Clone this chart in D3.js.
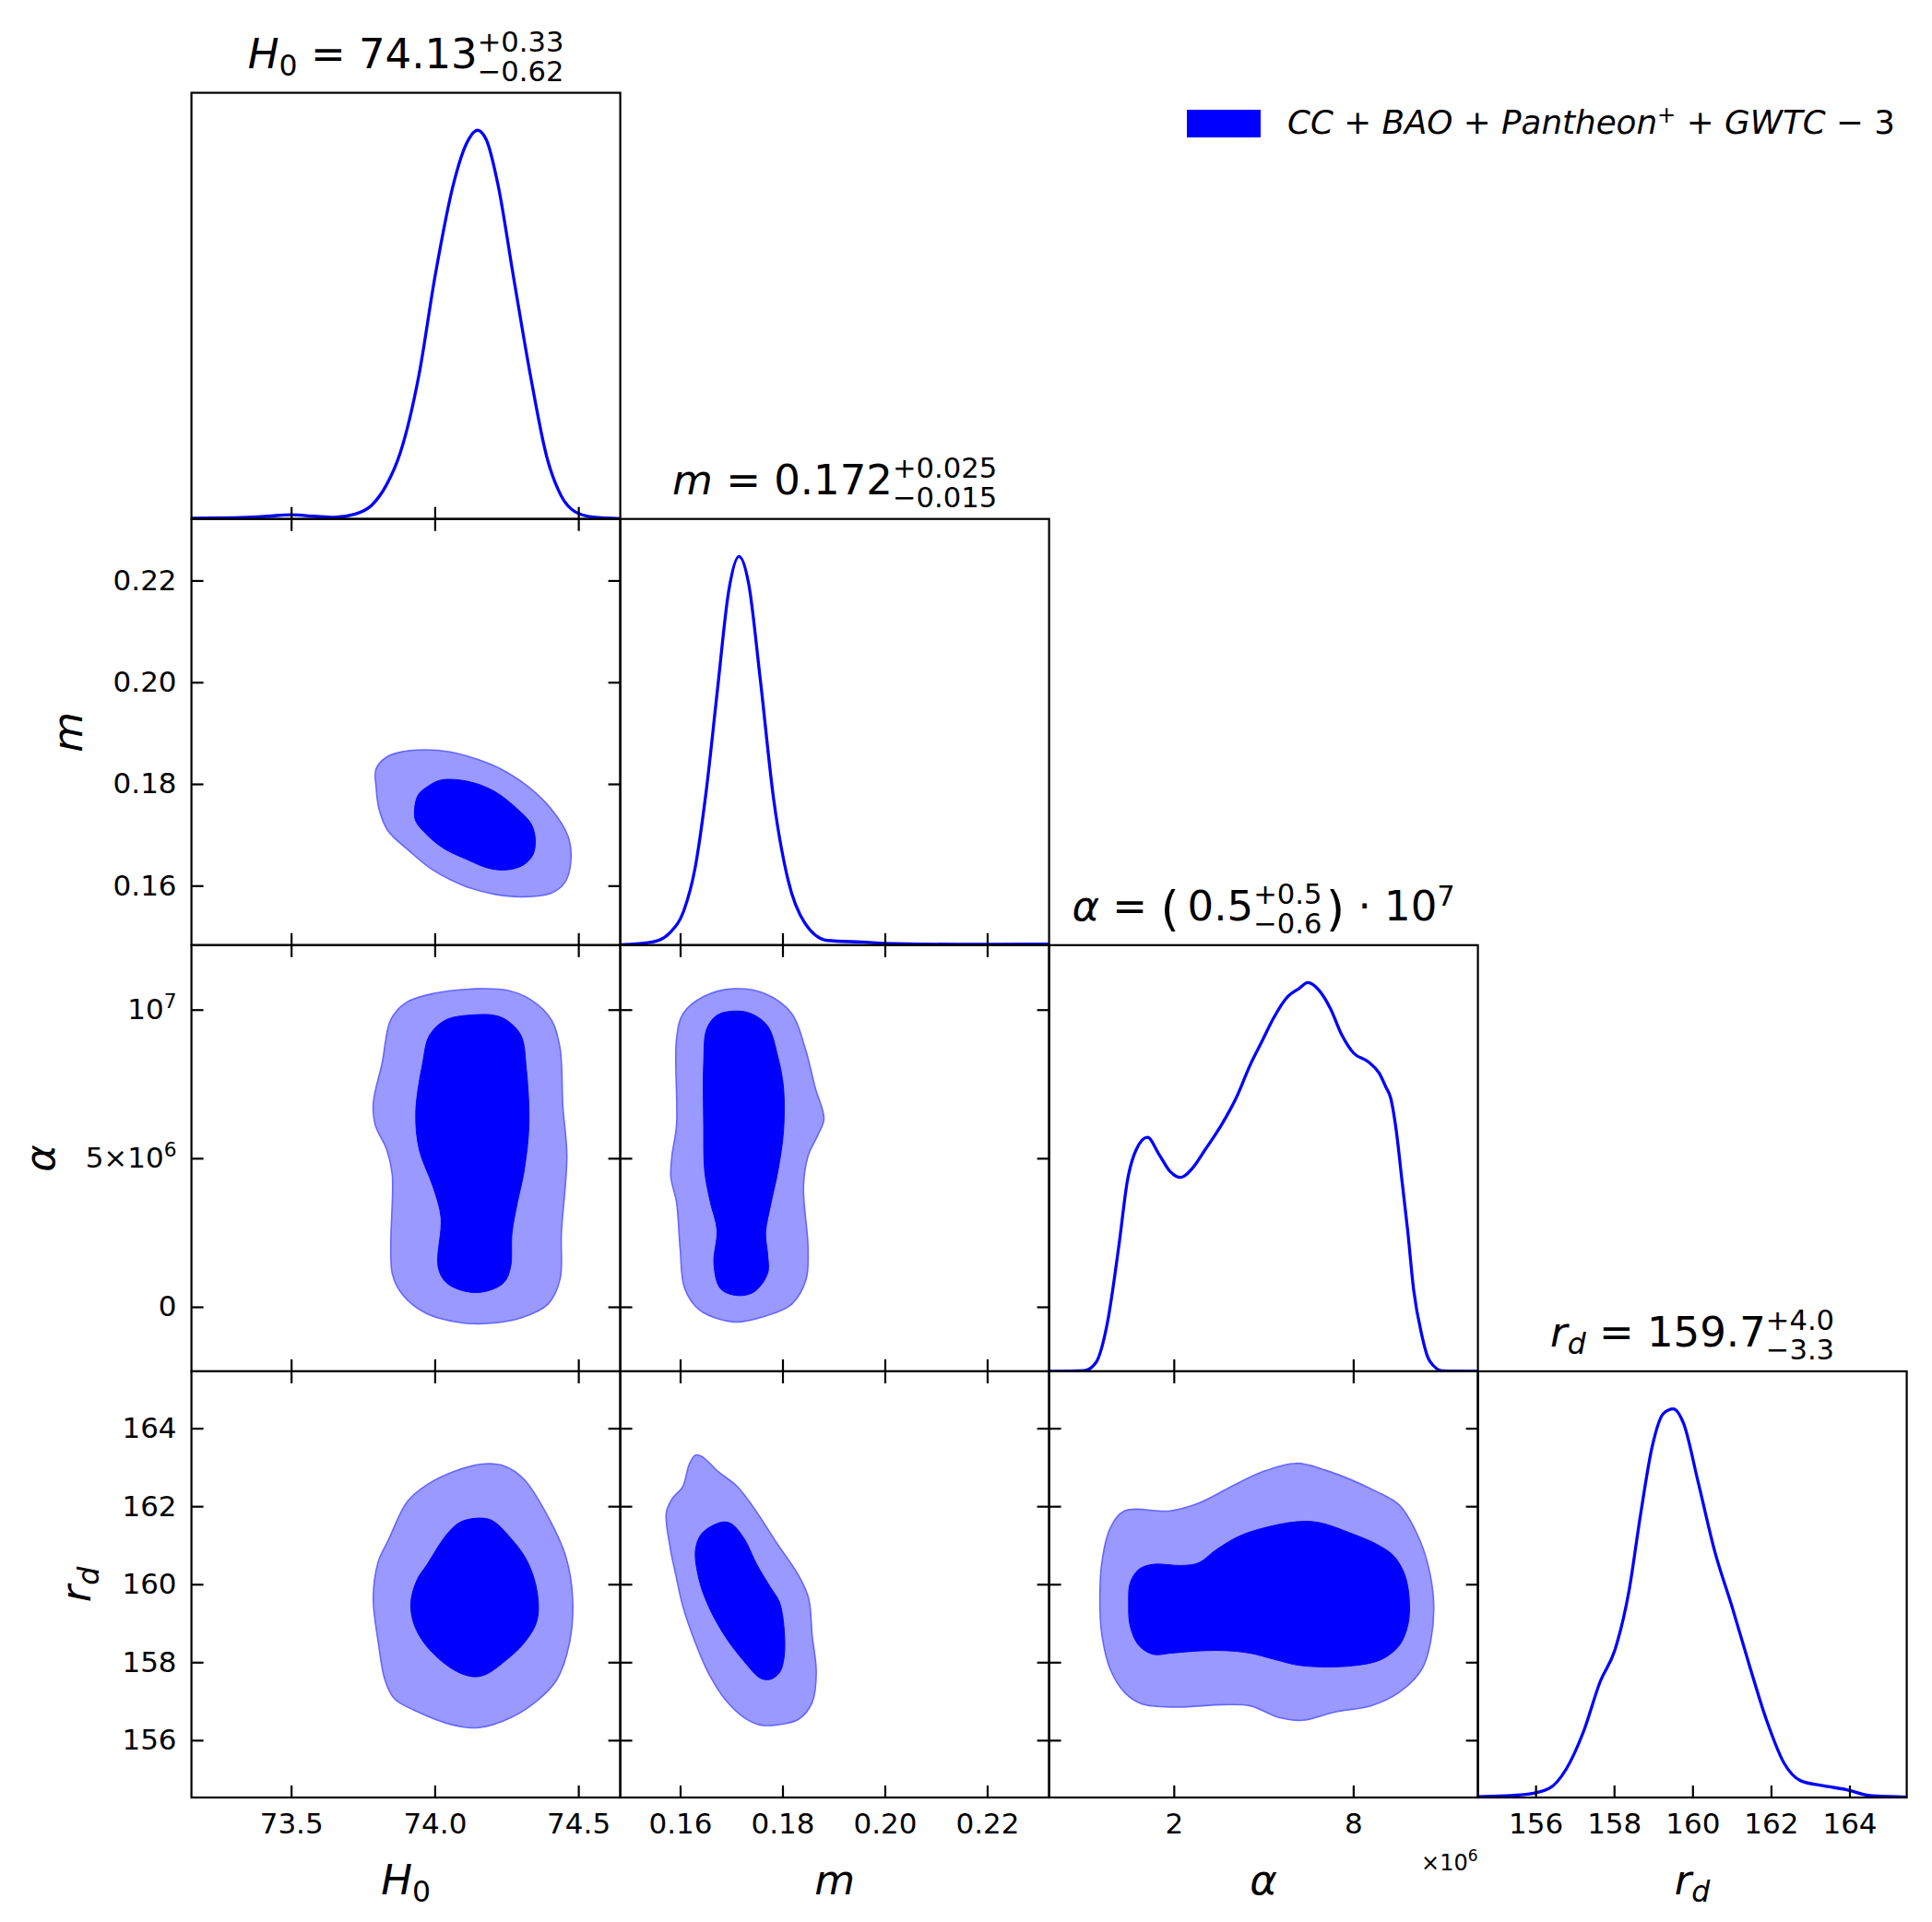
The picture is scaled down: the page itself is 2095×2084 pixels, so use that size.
<!DOCTYPE html>
<html>
<head>
<meta charset="utf-8">
<script src="https://cdn.jsdelivr.net/npm/d3@7"></script>
<style>
	body { margin: 0; background: white; }
	text { font-family: "DejaVu Sans", sans-serif; fill: black; }
</style>
</head>
<body>
<script>
// corner plot: H0, m, alpha (alpha kept in units of 1e6), r_d

var rangeH0 = [73.153, 74.646];
var rangeM = [0.1483, 0.2321];
var rangeAlpha = [-2.17, 12.17];
var rangeRd = [154.53, 165.46];

var ticksH0 = [73.5, 74.0, 74.5];
var tickLabelsH0 = ["73.5", "74.0", "74.5"];
var ticksM = [0.16, 0.18, 0.20, 0.22];
var tickLabelsM = ["0.16", "0.18", "0.20", "0.22"];
var ticksAlphaX = [2, 8];
var tickLabelsAlphaX = ["2", "8"];
var ticksAlphaY = [0, 5, 10];
var tickLabelsAlphaY = [["0", ""], ["5\u00d710", "6"], ["10", "7"]];
var ticksRd = [156, 158, 160, 162, 164];
var tickLabelsRd = ["156", "158", "160", "162", "164"];

// 1D marginals, normalised to peak 1
var margH0 = [[73.153, 0.002], [73.30, 0.003], [73.42, 0.007], [73.50, 0.011], [73.58, 0.007],
	[73.65, 0.004], [73.72, 0.012], [73.78, 0.035], [73.83, 0.085], [73.88, 0.17], [73.945, 0.37],
	[74.001, 0.624], [74.065, 0.861], [74.11, 0.965], [74.149, 1.0], [74.18, 0.975], [74.220, 0.861],
	[74.274, 0.624], [74.333, 0.37], [74.39, 0.16], [74.44, 0.06], [74.49, 0.018], [74.55, 0.005],
	[74.646, 0.001]];
var margM = [[0.1483, 0.001], [0.1546, 0.008], [0.1580, 0.032], [0.1607, 0.088], [0.1629, 0.197],
	[0.1651, 0.397], [0.1673, 0.658], [0.1695, 0.912], [0.1715, 1.0], [0.1734, 0.929], [0.1756, 0.691],
	[0.1783, 0.373], [0.1811, 0.167], [0.1844, 0.056], [0.1888, 0.012], [0.1954, 0.008], [0.2020, 0.004],
	[0.2174, 0.002], [0.2321, 0.003]];
var margAlpha = [[-2.17, 0], [-0.99, 0.002], [-0.60, 0.023], [-0.22, 0.125], [0.16, 0.321],
	[0.45, 0.491], [0.73, 0.568], [1.12, 0.602], [1.50, 0.559], [1.89, 0.513], [2.23, 0.499],
	[2.65, 0.525], [3.03, 0.568], [3.61, 0.636], [4.09, 0.704], [4.56, 0.789], [4.95, 0.849],
	[5.33, 0.908], [5.81, 0.964], [6.19, 0.985], [6.48, 1.0], [6.86, 0.980], [7.24, 0.933],
	[7.62, 0.865], [8.01, 0.819], [8.49, 0.797], [8.87, 0.767], [9.10, 0.73], [9.25, 0.704],
	[9.44, 0.619], [9.63, 0.491], [9.82, 0.363], [10.02, 0.21], [10.30, 0.091], [10.50, 0.035],
	[10.69, 0.014], [11.0, 0.001], [12.17, 0]];
var margRd = [[154.53, 0.002], [155.75, 0.008], [156.34, 0.023], [156.78, 0.073], [157.22, 0.169],
	[157.65, 0.299], [158.02, 0.379], [158.38, 0.531], [158.68, 0.731], [158.97, 0.902],
	[159.26, 0.988], [159.51, 1.0], [159.77, 0.963], [160.14, 0.813], [160.57, 0.632],
	[161.01, 0.490], [161.45, 0.340], [161.89, 0.198], [162.33, 0.089], [162.76, 0.043],
	[163.35, 0.030], [163.93, 0.020], [164.52, 0.005], [165.46, 0.001]];

// 2D contours (68% inner, 95% outer), [x, y] in data units
var mH0Outer = [[73.963, 0.1867], [74.052, 0.1863], [74.150, 0.1848], [74.228, 0.1830], [74.327, 0.1794],
	[74.405, 0.1751], [74.464, 0.1697], [74.474, 0.1649], [74.454, 0.1607], [74.405, 0.1585],
	[74.307, 0.1578], [74.209, 0.1583], [74.110, 0.1598], [73.993, 0.1631], [73.914, 0.1667],
	[73.836, 0.1709], [73.806, 0.1751], [73.796, 0.1794], [73.796, 0.1830], [73.836, 0.1854],
	[73.894, 0.1864]];
var mH0Inner = [[74.052, 0.1809], [74.130, 0.1803], [74.209, 0.1785], [74.287, 0.1751], [74.336, 0.1721],
	[74.350, 0.1691], [74.342, 0.1661], [74.307, 0.1640], [74.248, 0.1631], [74.189, 0.1634],
	[74.110, 0.1652], [74.032, 0.1673], [73.973, 0.1700], [73.934, 0.1727], [73.930, 0.1751],
	[73.943, 0.1779], [73.973, 0.1794], [74.012, 0.1806]];
var alphaH0Outer = [[74.147, 10.70], [74.252, 10.65], [74.335, 10.33], [74.406, 9.66], [74.436, 8.72],
	[74.446, 6.75], [74.460, 5.08], [74.441, 2.48], [74.436, 0.92], [74.394, 0.09], [74.300, -0.37],
	[74.182, -0.56], [74.088, -0.53], [73.970, -0.22], [73.888, 0.41], [73.852, 1.13], [73.852, 4.46],
	[73.833, 5.29], [73.793, 6.12], [73.786, 6.85], [73.817, 8.20], [73.847, 9.66], [73.899, 10.23],
	[73.994, 10.54]];
var alphaH0Inner = [[74.147, 9.83], [74.206, 9.81], [74.248, 9.66], [74.300, 9.14], [74.319, 7.99],
	[74.328, 6.12], [74.311, 4.56], [74.288, 3.52], [74.269, 2.48], [74.264, 1.34], [74.241, 0.82],
	[74.182, 0.53], [74.111, 0.51], [74.040, 0.82], [74.012, 1.34], [74.022, 3.00], [73.994, 4.04],
	[73.946, 5.29], [73.934, 6.54], [73.958, 8.20], [73.982, 9.14], [74.040, 9.66]];
var alphaMOuter = [[0.1705, 10.70], [0.1765, 10.54], [0.1818, 9.87], [0.1844, 8.72], [0.1864, 7.37],
	[0.1881, 6.33], [0.1870, 5.81], [0.1850, 5.08], [0.1841, 4.04], [0.1850, 1.97], [0.1846, 0.92],
	[0.1818, 0.09], [0.1765, -0.32], [0.1705, -0.51], [0.1639, -0.12], [0.1609, 0.61], [0.1600, 1.97],
	[0.1593, 3.52], [0.1582, 4.35], [0.1584, 5.08], [0.1593, 6.12], [0.1593, 9.03], [0.1606, 9.87],
	[0.1646, 10.44]];
var alphaMInner = [[0.1705, 9.95], [0.1738, 9.87], [0.1771, 9.45], [0.1791, 8.41], [0.1802, 7.37],
	[0.1802, 5.91], [0.1791, 4.56], [0.1778, 3.52], [0.1767, 2.48], [0.1771, 1.76], [0.1771, 1.13],
	[0.1745, 0.51], [0.1712, 0.38], [0.1679, 0.61], [0.1666, 1.44], [0.1672, 2.59], [0.1659, 3.52],
	[0.1648, 4.56], [0.1646, 6.12], [0.1646, 8.20], [0.1652, 9.35], [0.1672, 9.81]];
var rdH0Outer = [[74.164, 163.08], [74.243, 163.03], [74.311, 162.69], [74.401, 161.64], [74.457, 160.69],
	[74.480, 159.64], [74.469, 158.49], [74.424, 157.54], [74.356, 157.01], [74.266, 156.58],
	[74.153, 156.32], [74.063, 156.39], [73.928, 156.77], [73.860, 157.06], [73.827, 157.54],
	[73.804, 158.49], [73.786, 159.64], [73.804, 160.59], [73.838, 161.12], [73.905, 162.12],
	[73.973, 162.55], [74.063, 162.88]];
var rdH0Inner = [[74.142, 161.69], [74.198, 161.64], [74.266, 161.17], [74.322, 160.59], [74.356, 159.83],
	[74.356, 159.07], [74.311, 158.49], [74.243, 158.02], [74.176, 157.68], [74.131, 157.63],
	[74.063, 157.82], [73.973, 158.40], [73.928, 158.97], [73.917, 159.54], [73.939, 160.12],
	[73.973, 160.50], [74.040, 161.26], [74.086, 161.58]];
var rdMOuter = [[0.1630, 163.31], [0.1643, 163.27], [0.1675, 162.88], [0.1712, 162.50], [0.1750, 161.84],
	[0.1788, 161.07], [0.1832, 160.21], [0.1851, 159.64], [0.1858, 158.68], [0.1866, 157.73],
	[0.1858, 156.97], [0.1832, 156.54], [0.1788, 156.39], [0.1757, 156.39], [0.1725, 156.58],
	[0.1687, 157.06], [0.1655, 157.73], [0.1630, 158.49], [0.1605, 159.45], [0.1592, 160.21],
	[0.1580, 160.98], [0.1573, 161.84], [0.1586, 162.22], [0.1605, 162.50], [0.1618, 163.08]];
var rdMInner = [[0.1681, 161.59], [0.1700, 161.55], [0.1725, 161.17], [0.1750, 160.50], [0.1776, 159.93],
	[0.1794, 159.54], [0.1803, 158.88], [0.1803, 158.11], [0.1794, 157.73], [0.1776, 157.56],
	[0.1757, 157.59], [0.1725, 158.02], [0.1687, 158.68], [0.1655, 159.45], [0.1637, 160.12],
	[0.1630, 160.88], [0.1643, 161.31]];
var rdAlphaOuter = [[-0.47, 159.53], [-0.41, 160.53], [-0.13, 161.43], [0.35, 161.88], [1.88, 161.88],
	[2.84, 162.08], [3.99, 162.53], [4.95, 162.88], [6.09, 163.10], [7.05, 162.93], [8.77, 162.38],
	[9.54, 162.03], [10.11, 161.33], [10.49, 160.53], [10.69, 159.53], [10.59, 158.53], [10.30, 157.83],
	[9.54, 157.23], [8.58, 156.88], [7.43, 156.73], [6.29, 156.51], [5.52, 156.58], [4.56, 156.88],
	[3.61, 156.91], [2.08, 156.85], [0.93, 156.93], [0.35, 157.23], [-0.13, 157.83], [-0.41, 158.73]];
var rdAlphaInner = [[0.54, 160.03], [0.83, 160.38], [1.31, 160.51], [2.27, 160.48], [2.84, 160.55],
	[3.41, 160.88], [4.18, 161.23], [4.95, 161.43], [6.09, 161.60], [6.86, 161.58], [8.01, 161.28],
	[8.77, 161.03], [9.35, 160.73], [9.73, 160.23], [9.88, 159.53], [9.82, 158.93], [9.54, 158.43],
	[8.97, 158.08], [8.01, 157.91], [6.29, 157.91], [5.33, 158.08], [4.56, 158.23], [3.61, 158.30],
	[2.65, 158.28], [1.88, 158.23], [1.31, 158.20], [0.83, 158.43], [0.54, 158.93], [0.49, 159.53]];

var vars = [
	{ range: rangeH0, xTicks: ticksH0, xLabels: tickLabelsH0, yTicks: ticksH0, marg: margH0 },
	{ range: rangeM, xTicks: ticksM, xLabels: tickLabelsM, yTicks: ticksM, yLabels: tickLabelsM, marg: margM },
	{ range: rangeAlpha, xTicks: ticksAlphaX, xLabels: tickLabelsAlphaX, yTicks: ticksAlphaY, marg: margAlpha },
	{ range: rangeRd, xTicks: ticksRd, xLabels: tickLabelsRd, yTicks: ticksRd, yLabels: tickLabelsRd, marg: margRd }
];

var contours = [
	{ col: 0, row: 1, outer: mH0Outer, inner: mH0Inner },
	{ col: 0, row: 2, outer: alphaH0Outer, inner: alphaH0Inner },
	{ col: 1, row: 2, outer: alphaMOuter, inner: alphaMInner },
	{ col: 0, row: 3, outer: rdH0Outer, inner: rdH0Inner },
	{ col: 1, row: 3, outer: rdMOuter, inner: rdMInner },
	{ col: 2, row: 3, outer: rdAlphaOuter, inner: rdAlphaInner }
];

var width = 2095, height = 2084;
var gridLeft = 207.6, gridTop = 100.6, panelW = 465, panelH = 462.1;
var tickLen = 13, spineW = 2.2;
var tickFont = 31, labelFont = 45;
var blue = "#0000ff", lightBlue = "#9999ff", edgeBlue = "#6666ff";
var peakFrac = 0.912;

var svg = d3.select("body")
	.append("svg")
		.attr("width", width)
		.attr("height", height);

svg.append("rect")
		.attr("width", width)
		.attr("height", height)
		.attr("fill", "white");

function colX(i) { return gridLeft + i * panelW; }
function rowY(j) { return gridTop + j * panelH; }

var xScales = vars.map(function(v, i) {
	return d3.scaleLinear().domain(v.range).range([colX(i), colX(i) + panelW]);
});
var yScales = vars.map(function(v, j) {
	return d3.scaleLinear().domain(v.range).range([rowY(j) + panelH, rowY(j)]);
});

var defs = svg.append("defs");
var plots = svg.append("g");
var axes = svg.append("g");

function clipFor(i, j) {
	var id = "clip" + i + j;
	defs.append("clipPath")
			.attr("id", id)
		.append("rect")
			.attr("x", colX(i))
			.attr("y", rowY(j))
			.attr("width", panelW)
			.attr("height", panelH);
	return "url(#" + id + ")";
}

function styleAxis(a) {
	a.select(".domain").remove();
	a.attr("font-family", null).attr("font-size", null);
	a.selectAll("line")
			.attr("stroke", "black")
			.attr("stroke-width", spineW);
	a.selectAll("text")
			.attr("font-size", tickFont)
			.attr("fill", "black");
	return a;
}

function labelFormat(labels) {
	return function(d, k) { return labels ? labels[k] : ""; };
}

function bottomAxis(i, j, labels) {
	var ax = d3.axisBottom(xScales[i]).tickValues(vars[i].xTicks)
		.tickSize(-tickLen).tickPadding(17).tickFormat(labelFormat(labels));
	return styleAxis(axes.append("g")
		.attr("transform", "translate(0," + (rowY(j) + panelH) + ")").call(ax));
}

function topAxis(i, j) {
	var ax = d3.axisTop(xScales[i]).tickValues(vars[i].xTicks)
		.tickSize(-tickLen).tickFormat("");
	return styleAxis(axes.append("g")
		.attr("transform", "translate(0," + rowY(j) + ")").call(ax));
}

function leftAxis(i, j, withLabels) {
	var ax = d3.axisLeft(yScales[j]).tickValues(vars[j].yTicks)
		.tickSize(-tickLen).tickPadding(16)
		.tickFormat(labelFormat(withLabels && vars[j].yLabels));
	var a = styleAxis(axes.append("g")
		.attr("transform", "translate(" + colX(i) + ",0)").call(ax));
	if (withLabels && j === 2) {
		a.selectAll(".tick text").each(function(d, k) {
			var t = d3.select(this).text("");
			t.append("tspan").text(tickLabelsAlphaY[k][0]);
			t.append("tspan")
					.attr("font-size", 0.7 * tickFont)
					.attr("dy", -0.4 * tickFont)
					.text(tickLabelsAlphaY[k][1]);
		});
	}
	return a;
}

function rightAxis(i, j) {
	var ax = d3.axisRight(yScales[j]).tickValues(vars[j].yTicks)
		.tickSize(-tickLen).tickFormat("");
	return styleAxis(axes.append("g")
		.attr("transform", "translate(" + (colX(i) + panelW) + ",0)").call(ax));
}

// place a run of text pieces one after another, with stacked super/subscripts
function mathLabel(parent, x, y, size, pieces, anchor, rotate) {
	var g = parent.append("g")
		.attr("transform", "translate(" + x + "," + y + ")" + (rotate ? " rotate(" + rotate + ")" : ""));
	var inner = g.append("g");
	var cx = 0;
	pieces.forEach(function(p) {
		var w = 0;
		if (p.sup !== undefined && p.sub !== undefined) {
			w = Math.max(run(inner, cx, -0.4 * size, 0.68 * size, p.sup, p.it),
				run(inner, cx, 0.3 * size, 0.68 * size, p.sub, p.it));
		} else if (p.sup !== undefined) {
			w = run(inner, cx, -0.35 * size, 0.68 * size, p.sup, p.it);
		} else if (p.sub !== undefined) {
			w = run(inner, cx, 0.18 * size, 0.7 * size, p.sub, p.it);
		} else {
			w = run(inner, cx, (p.dy || 0) * size, (p.fs || 1) * size, p.t, p.it);
		}
		cx += w;
	});
	var shift = anchor === "middle" ? -cx / 2 : (anchor === "end" ? -cx : 0);
	inner.attr("transform", "translate(" + shift + ",0)");
	return g;
}

function run(g, x, y, fs, t, it) {
	var el = g.append("text")
			.attr("x", x)
			.attr("y", y)
			.attr("font-size", fs)
			.attr("font-style", it ? "italic" : "normal")
			.style("white-space", "pre")
			.text(t);
	return el.node().getComputedTextLength();
}

// 2D panels
var contourLine = d3.line().curve(d3.curveCatmullRomClosed.alpha(0.5));

contours.forEach(function(c) {
	var xs = xScales[c.col], ys = yScales[c.row];
	var g = plots.append("g").attr("clip-path", clipFor(c.col, c.row));
	contourLine.x(function(d) { return xs(d[0]); }).y(function(d) { return ys(d[1]); });
	g.append("path")
			.attr("d", contourLine(c.outer))
			.attr("fill", lightBlue)
			.attr("stroke", edgeBlue)
			.attr("stroke-width", 1.6);
	g.append("path")
			.attr("d", contourLine(c.inner))
			.attr("fill", blue)
			.attr("stroke", blue)
			.attr("stroke-width", 1);
});

// 1D panels
vars.forEach(function(v, i) {
	var ys = d3.scaleLinear().domain([0, 1 / peakFrac]).range([rowY(i) + panelH, rowY(i)]);
	var line = d3.line()
		.x(function(d) { return xScales[i](d[0]); })
		.y(function(d) { return ys(d[1]); })
		.curve(d3.curveMonotoneX);
	plots.append("g")
			.attr("clip-path", clipFor(i, i))
		.append("path")
			.attr("d", line(v.marg))
			.attr("fill", "none")
			.attr("stroke", blue)
			.attr("stroke-width", 3.3);
});

// ticks
var leftTickAxes = [];
for (var j = 0; j < 4; j++) {
	for (var i = 0; i <= j; i++) {
		bottomAxis(i, j, j === 3 ? vars[i].xLabels : null);
		if (i < j) {
			topAxis(i, j);
			rightAxis(i, j);
			if (i === 0) leftTickAxes[j] = leftAxis(i, j, true);
			else leftAxis(i, j, false);
		}
	}
}

// frames
for (var j = 0; j < 4; j++) {
	for (var i = 0; i <= j; i++) {
		axes.append("rect")
				.attr("x", colX(i))
				.attr("y", rowY(j))
				.attr("width", panelW)
				.attr("height", panelH)
				.attr("fill", "none")
				.attr("stroke", "black")
				.attr("stroke-width", spineW);
	}
}

// offset text for alpha
var offText = axes.append("text")
		.attr("x", colX(3))
		.attr("y", 2028)
		.attr("text-anchor", "end")
		.attr("font-size", 24);
offText.append("tspan").text("\u00d710");
offText.append("tspan").attr("font-size", 17).attr("dy", -10).text("6");

// titles over the diagonal
var titles = [
	[{ t: "H", it: true }, { sub: "0" }, { t: " = 74.13" }, { sup: "+0.33", sub: "\u22120.62" }],
	[{ t: "m", it: true }, { t: " = 0.172" }, { sup: "+0.025", sub: "\u22120.015" }],
	[{ t: "\u03b1", it: true }, { t: " = " }, { t: "(", fs: 1.15, dy: 0.1 }, { t: "\u20090.5" },
		{ sup: "+0.5", sub: "\u22120.6" }, { t: "\u200a" }, { t: ")", fs: 1.15, dy: 0.1 },
		{ t: " \u00b7 10" }, { sup: "7" }],
	[{ t: "r", it: true }, { sub: "d", it: true }, { t: " = 159.7" }, { sup: "+4.0", sub: "\u22123.3" }]
];
titles.forEach(function(p, i) {
	mathLabel(axes, colX(i) + panelW / 2, rowY(i) - 26.6, labelFont, p, "middle");
});

// axis labels
var axisNames = [
	[{ t: "H", it: true }, { sub: "0" }],
	[{ t: "m", it: true }],
	[{ t: "\u03b1", it: true }],
	[{ t: "r", it: true }, { sub: "d", it: true }]
];
axisNames.forEach(function(p, i) {
	mathLabel(axes, colX(i) + panelW / 2, 2054, labelFont, p, "middle");
});
for (var j = 1; j < 4; j++) {
	var box = leftTickAxes[j].node().getBBox();
	var bx = colX(0) + box.x - 34;
	mathLabel(axes, bx, rowY(j) + panelH / 2, labelFont, axisNames[j], "middle", -90);
}

// legend
svg.append("rect")
		.attr("x", 1287)
		.attr("y", 119)
		.attr("width", 80)
		.attr("height", 30)
		.attr("fill", blue);
mathLabel(svg, 1396, 145, 35.7, [
	{ t: "CC", it: true }, { t: " + " }, { t: "BAO", it: true }, { t: " + " },
	{ t: "Pantheon", it: true }, { sup: "+" }, { t: " + " }, { t: "GWTC", it: true },
	{ t: " \u2212 " }, { t: "3" }
], "start");
</script>
</body>
</html>
